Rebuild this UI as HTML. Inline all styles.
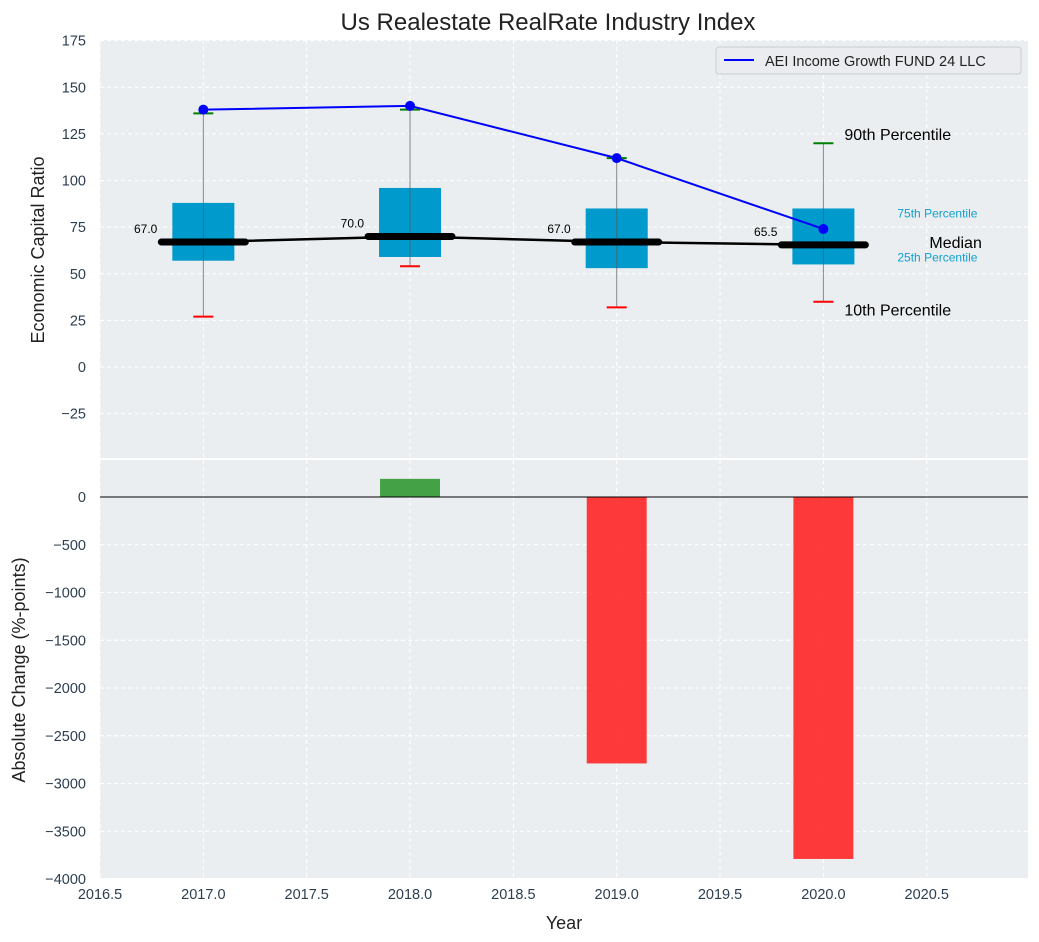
<!DOCTYPE html>
<html><head><meta charset="utf-8"><style>
body{margin:0;background:#fff;}
svg{display:block;font-family:"Liberation Sans","DejaVu Sans",sans-serif;}
</style></head><body>
<svg id="c" width="1039" height="942"></svg>
<script>
const years=[2017,2018,2019,2020];
const p10=[27,54,32,35];
const q1=[57,59,53,55];
const med=[67,70,67,65.5];
const q3=[88,96,85,85];
const p90=[136,138,112,120];
const company=[138,140,112,74];
const changes=[0,190,-2790,-3790];
const yTicksTop=[-25,0,25,50,75,100,125,150,175];
const yTicksBot=[-4000,-3500,-3000,-2500,-2000,-1500,-1000,-500,0];
const xTicks=[2016.5,2017,2017.5,2018,2018.5,2019,2019.5,2020,2020.5];

const NS="http://www.w3.org/2000/svg";
const svg=document.getElementById('c');
function el(t,a,p){const e=document.createElementNS(NS,t);for(const k in a)e.setAttribute(k,a[k]);(p||svg).appendChild(e);return e;}
const L=100,R=1028;
const x=v=>L+(v-2016.5)/(2020.99-2016.5)*(R-L);
const T1=40,B1=458,yT=v=>367-v*1.865;
const T2=460,B2=878,yB=v=>497-v*0.0955;
let bg=el('rect',{x:L,y:T1,width:R-L,height:B1-T1,fill:'#eaeef0'});

let bg2=el('rect',{x:L,y:T2,width:R-L,height:B2-T2,fill:'#eaeef0'});

function txt(s,xx,yy,o){const t=el('text',Object.assign({x:xx,y:yy,'font-size':14.5,fill:'#2c3e50'},o||{}));t.textContent=s;return t;}
xTicks.forEach(v=>{[[T1,B1],[T2,B2]].forEach(([a,b])=>{el('line',{x1:x(v),x2:x(v),y1:a,y2:b,stroke:'#fff','stroke-dasharray':'4,3','stroke-width':1});});
 const t=txt(v.toFixed(1),x(v),899,{'text-anchor':'middle'});});
yTicksTop.forEach(v=>{el('line',{x1:L,x2:R,y1:yT(v),y2:yT(v),stroke:'#fff','stroke-dasharray':'4,3'});
 const t=txt(v<0?'\u2212'+(-v):String(v),86,yT(v)+5,{'text-anchor':'end'});});
yTicksBot.forEach(v=>{el('line',{x1:L,x2:R,y1:yB(v),y2:yB(v),stroke:'#fff','stroke-dasharray':'4,3'});
 const t=txt(v<0?'\u2212'+(-v):String(v),86,yB(v)+5,{'text-anchor':'end'});});
years.forEach((yr,i)=>{
 const cx=x(yr),hw=0.15*206.7;
 el('line',{x1:cx,x2:cx,y1:yT(p90[i]),y2:yT(p10[i]),stroke:'#888','stroke-width':1});
 let b=el('rect',{x:cx-hw,y:yT(q3[i]),width:2*hw,height:yT(q1[i])-yT(q3[i]),fill:'#009acd'});
 
 el('line',{x1:cx,x2:cx,y1:yT(q3[i]),y2:yT(q1[i]),stroke:'#555','stroke-width':1,opacity:0.6});
 el('line',{x1:cx-10,x2:cx+10,y1:yT(p90[i]),y2:yT(p90[i]),stroke:'green','stroke-width':2});
 el('line',{x1:cx-10,x2:cx+10,y1:yT(p10[i]),y2:yT(p10[i]),stroke:'red','stroke-width':2});
 let m=el('line',{x1:cx-42,x2:cx+42,y1:yT(med[i]),y2:yT(med[i]),stroke:'#000','stroke-width':7,'stroke-linecap':'round'});
 
 txt(med[i].toFixed(1),cx-46,yT(med[i])-9,{'font-size':12,fill:'#000','text-anchor':'end'});
});
el('polyline',{points:years.map((yr,i)=>x(yr)+','+yT(med[i])).join(' '),fill:'none',stroke:'#000','stroke-width':2.5});
let cp=el('polyline',{points:years.map((yr,i)=>x(yr)+','+yT(company[i])).join(' '),fill:'none',stroke:'#0000ff','stroke-width':2});

years.forEach((yr,i)=>{let c=el('circle',{cx:x(yr),cy:yT(company[i]),r:5,fill:'#0000ff'});});
const lx=x(2020);
txt('90th Percentile',lx+21,yT(p90[3])-3,{'font-size':16,fill:'#000'});
txt('10th Percentile',lx+21,yT(p10[3])+14,{'font-size':16,fill:'#000'});
txt('75th Percentile',lx+74,yT(q3[3])+9,{'font-size':12,fill:'#0fa0d0'});
txt('25th Percentile',lx+74,yT(q1[3])-3,{'font-size':12,fill:'#0fa0d0'});
txt('Median',lx+106,yT(med[3])+3,{'font-size':16,fill:'#000'});
let lg=el('rect',{x:716,y:47,width:305,height:27,fill:'#eaecef',stroke:'#ccc',rx:3});

el('line',{x1:724,x2:754,y1:60,y2:60,stroke:'#0000ff','stroke-width':2});
txt('AEI Income Growth FUND 24 LLC',765,66,{'font-size':14.5,fill:'#222'});
years.forEach((yr,i)=>{if(!changes[i])return;const v=changes[i];
 let r=el('rect',{x:x(yr)-0.145*206.7,y:Math.min(yB(0),yB(v)),width:0.29*206.7,height:Math.abs(yB(v)-yB(0)),fill:v>0?'#2c962c':'#ff2020',opacity:0.88});
 });
el('line',{x1:L,x2:R,y1:yB(0),y2:yB(0),stroke:'#000','stroke-width':1});
let tt=txt('Us Realestate RealRate Industry Index',548,30,{'font-size':24,fill:'#222','text-anchor':'middle'});

let xl=txt('Year',564,929,{'font-size':18,fill:'#222','text-anchor':'middle'});

let y1=txt('Economic Capital Ratio',44,250,{'font-size':18,fill:'#222','text-anchor':'middle',transform:'rotate(-90 44 250)'});

let y2=txt('Absolute Change (%-points)',25,670,{'font-size':18,fill:'#222','text-anchor':'middle',transform:'rotate(-90 25 670)'});

</script>
</body></html>
